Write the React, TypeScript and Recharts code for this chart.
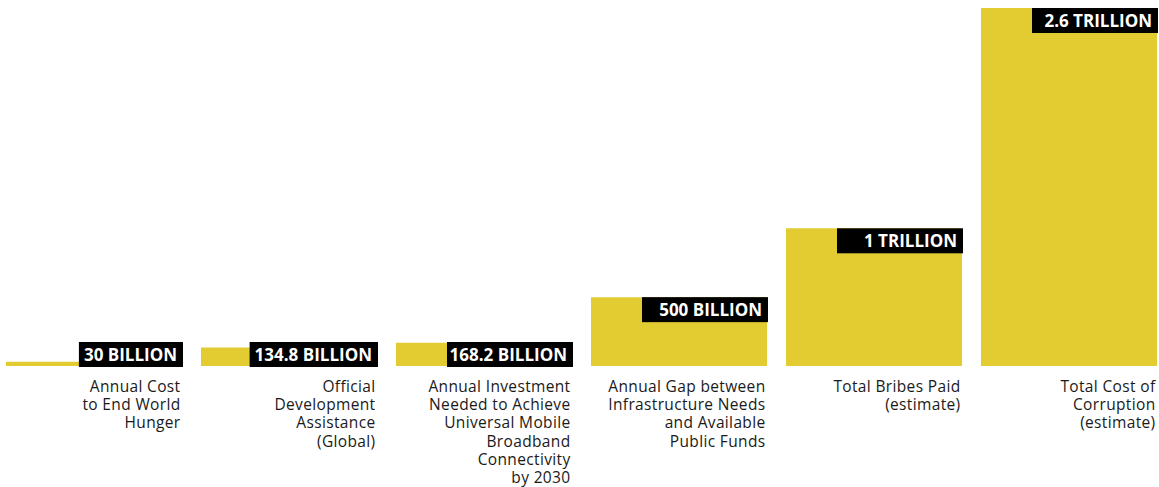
import { BarChart, Bar, XAxis, YAxis, LabelList } from "recharts";

const categories = [
  ["Annual Cost", "to End World", "Hunger"],
  ["Official", "Development", "Assistance", "(Global)"],
  ["Annual Investment", "Needed to Achieve", "Universal Mobile", "Broadband", "Connectivity", "by 2030"],
  ["Annual Gap between", "Infrastructure Needs", "and Available", "Public Funds"],
  ["Total Bribes Paid", "(estimate)"],
  ["Total Cost of", "Corruption", "(estimate)"],
];
// US$ billions
const values = [30, 134.8, 168.2, 500, 1000, 2600];
const valueLabels = ["30 BILLION", "134.8 BILLION", "168.2 BILLION", "500 BILLION", "1 TRILLION", "2.6 TRILLION"];

const data = values.map((v, i) => ({ name: String(i), value: v, label: valueLabels[i] }));

const YELLOW = "#E3CB32";
const BAR = 176;
const BOX_FONT = "700 17px 'Open Sans'";

let ctx: CanvasRenderingContext2D | null = null;
function textWidth(s: string) {
  if (!ctx) ctx = document.createElement("canvas").getContext("2d");
  if (!ctx) return s.length * 9;
  ctx.font = BOX_FONT;
  return ctx.measureText(s).width;
}

function ValueLabel(props: any) {
  const { x, y, width, index } = props;
  const text = valueLabels[index];
  const right = x + width;
  const base = 366;
  const top = Math.min(y, base - 24);
  // short bars: box hugs the text; the rest use a fixed box
  const w = values[index] < 150 ? textWidth(text) + 10 : 125;
  return (
    <g>
      <rect x={right - w} y={top} width={w + 1} height={25} fill="#000" />
      <text x={right - 5} y={top + 18.5} textAnchor="end" fill="#fff" style={{ font: BOX_FONT }}>
        {text}
      </text>
    </g>
  );
}

function CategoryTick(props: any) {
  const { x, y, payload } = props;
  const lines = categories[Number(payload.value)] || [];
  const tx = x + BAR / 2 - 1;
  return (
    <g>
      {lines.map((l, i) => (
        <text
          key={i}
          x={tx}
          y={y + 18 + i * 18.2}
          textAnchor="end"
          fill="#1a1a1a"
          style={{ fontFamily: "'Open Sans', sans-serif", fontSize: 15.5, fontWeight: 500, letterSpacing: 0.35 }}
        >
          {l}
        </text>
      ))}
    </g>
  );
}

export default function App() {
  return (
    <div style={{ position: "fixed", left: 0, top: 0, width: 1159, height: 487, overflow: "hidden", background: "#fff" }}>
      <div style={{ position: "absolute", left: -4, top: 0 }}>
        <BarChart width={1170} height={487} data={data} margin={{ top: 8, right: 0, left: 0, bottom: 0 }}>
          <XAxis
            dataKey="name"
            height={121}
            axisLine={false}
            tickLine={false}
            interval={0}
            tick={<CategoryTick />}
          />
          <YAxis hide domain={[0, 2600]} />
          <Bar dataKey="value" fill={YELLOW} barSize={BAR} isAnimationActive={false}>
            <LabelList dataKey="label" content={<ValueLabel />} />
          </Bar>
        </BarChart>
      </div>
    </div>
  );
}
